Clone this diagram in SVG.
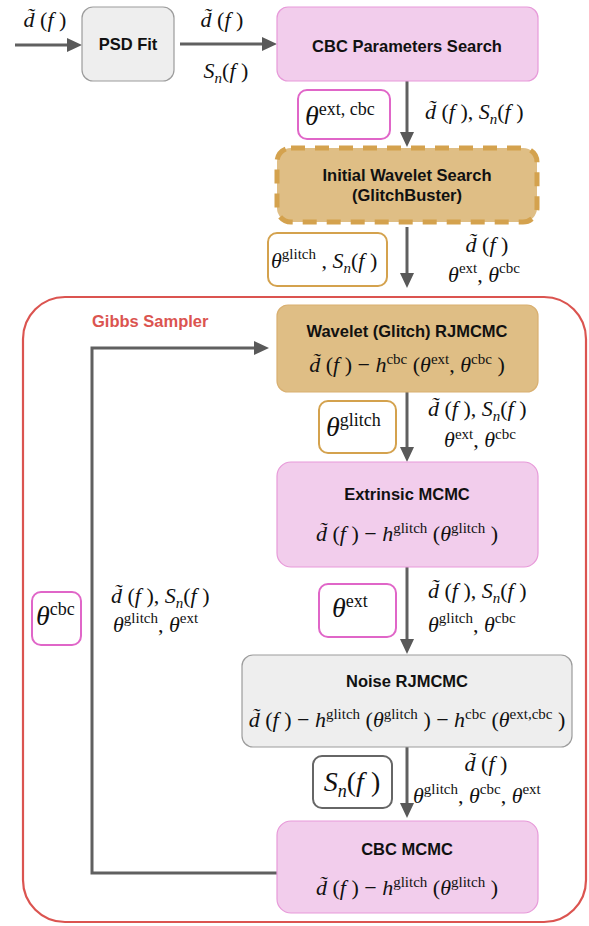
<svg xmlns="http://www.w3.org/2000/svg" width="589" height="926" viewBox="0 0 589 926">
<defs>
<marker id="ah" markerUnits="userSpaceOnUse" markerWidth="15" markerHeight="14" refX="4" refY="7" orient="auto">
<path d="M0,0 L15,7 L0,14 z" fill="#595959"/>
</marker>
<style>
.b{font-family:"Liberation Sans",Arial,sans-serif;font-weight:bold;font-size:16.5px;fill:#111}
.m{font-family:"Liberation Serif","Times New Roman",serif;font-size:22px;fill:#111}
.i{font-style:italic}
.s{font-size:15px}
.L{font-size:28px}
.Ls{font-size:18px}
.pink{fill:#f2cdec;stroke:#e79ad9;stroke-width:1.2}
.tan{fill:#dfbe85;stroke:#d9b071;stroke-width:1.2}
.grey{fill:#eeeeee;stroke:#9c9c9c;stroke-width:1.2}
.lb{fill:#fff;stroke-width:2}
.c{fill:none;stroke:#606060;stroke-width:3}
</style>
</defs>

<g id="gibbs">
<rect x="23" y="297" width="563" height="625" rx="42" fill="none" stroke="#db5450" stroke-width="2.2"/>
<text x="92" y="327" font-family="Liberation Sans,Arial,sans-serif" font-weight="bold" font-size="16.5" fill="#db5450">Gibbs Sampler</text>
</g>

<g id="connectors">
<line class="c" x1="15" y1="45" x2="71" y2="45" marker-end="url(#ah)"/>
<line class="c" x1="180" y1="44" x2="266" y2="44" marker-end="url(#ah)"/>
<line class="c" x1="407" y1="81" x2="407" y2="136" marker-end="url(#ah)"/>
<line class="c" x1="407" y1="227" x2="407" y2="277" marker-end="url(#ah)"/>
<line class="c" x1="407" y1="392" x2="407" y2="451" marker-end="url(#ah)"/>
<line class="c" x1="407" y1="567" x2="407" y2="643" marker-end="url(#ah)"/>
<line class="c" x1="407" y1="747" x2="407" y2="807" marker-end="url(#ah)"/>
<path class="c" d="M277,873 H92 V348 H258" marker-end="url(#ah)"/>
</g>

<g id="psd">
<rect class="grey" x="82" y="7" width="92" height="74" rx="11"/>
<text class="b" x="128" y="50" text-anchor="middle">PSD Fit</text>
</g>

<g id="cbc-search">
<rect class="pink" x="277" y="7" width="261" height="74" rx="11"/>
<text class="b" x="407" y="52" text-anchor="middle">CBC Parameters Search</text>
</g>

<g id="initial-wavelet">
<rect x="277" y="148" width="260" height="74" rx="14" fill="#dfbe85" stroke="#d4a24e" stroke-width="5" stroke-dasharray="14,10"/>
<text class="b" x="407" y="181" text-anchor="middle">Initial Wavelet Search</text>
<text class="b" x="407" y="201" text-anchor="middle">(GlitchBuster)</text>
</g>

<g id="wavelet-rjmcmc">
<rect class="tan" x="277" y="305" width="261" height="87" rx="11"/>
<text class="b" x="407" y="337" text-anchor="middle">Wavelet (Glitch) RJMCMC</text>
<text class="m" x="407" y="372" text-anchor="middle"><tspan class="i">d&#x303;</tspan> (<tspan class="i">f</tspan> ) − <tspan class="i">h</tspan><tspan class="s" dy="-8">cbc</tspan><tspan dy="8"> (</tspan><tspan class="i">θ</tspan><tspan class="s" dy="-8">ext</tspan><tspan dy="8">, </tspan><tspan class="i">θ</tspan><tspan class="s" dy="-8">cbc</tspan><tspan dy="8"> )</tspan></text>
</g>

<g id="extrinsic">
<rect class="pink" x="277" y="462" width="261" height="105" rx="14"/>
<text class="b" x="407" y="500" text-anchor="middle">Extrinsic MCMC</text>
<text class="m" x="407" y="541" text-anchor="middle"><tspan class="i">d&#x303;</tspan> (<tspan class="i">f</tspan> ) − <tspan class="i">h</tspan><tspan class="s" dy="-8">glitch</tspan><tspan dy="8"> (</tspan><tspan class="i">θ</tspan><tspan class="s" dy="-8">glitch</tspan><tspan dy="8"> )</tspan></text>
</g>

<g id="noise">
<rect class="grey" x="242" y="655" width="330" height="92" rx="11"/>
<text class="b" x="407" y="687" text-anchor="middle">Noise RJMCMC</text>
<text class="m" x="407" y="727" text-anchor="middle"><tspan class="i">d&#x303;</tspan> (<tspan class="i">f</tspan> ) − <tspan class="i">h</tspan><tspan class="s" dy="-8">glitch</tspan><tspan dy="8"> (</tspan><tspan class="i">θ</tspan><tspan class="s" dy="-8">glitch</tspan><tspan dy="8"> ) − </tspan><tspan class="i">h</tspan><tspan class="s" dy="-8">cbc</tspan><tspan dy="8"> (</tspan><tspan class="i">θ</tspan><tspan class="s" dy="-8">ext,cbc</tspan><tspan dy="8"> )</tspan></text>
</g>

<g id="cbc-mcmc">
<rect class="pink" x="277" y="821" width="261" height="92" rx="14"/>
<text class="b" x="407" y="855" text-anchor="middle">CBC MCMC</text>
<text class="m" x="407" y="895" text-anchor="middle"><tspan class="i">d&#x303;</tspan> (<tspan class="i">f</tspan> ) − <tspan class="i">h</tspan><tspan class="s" dy="-8">glitch</tspan><tspan dy="8"> (</tspan><tspan class="i">θ</tspan><tspan class="s" dy="-8">glitch</tspan><tspan dy="8"> )</tspan></text>
</g>

<g id="labels">
<text class="m" x="45" y="27" text-anchor="middle"><tspan class="i">d&#x303;</tspan> (<tspan class="i">f</tspan> )</text>
<text class="m" x="222" y="27" text-anchor="middle"><tspan class="i">d&#x303;</tspan> (<tspan class="i">f</tspan> )</text>
<text class="m" x="226" y="78" text-anchor="middle"><tspan class="i">S</tspan><tspan class="s i" dy="5">n</tspan><tspan dy="-5">(</tspan><tspan class="i">f</tspan> )</text>

<rect class="lb" x="298" y="90" width="92" height="49" rx="9" stroke="#e066c8"/>
<text class="m" x="305" y="125"><tspan class="i L">θ</tspan><tspan class="Ls" dy="-10">ext, cbc</tspan></text>
<text class="m" x="425" y="119"><tspan class="i">d&#x303;</tspan> (<tspan class="i">f</tspan> ), <tspan class="i">S</tspan><tspan class="s i" dy="5">n</tspan><tspan dy="-5">(</tspan><tspan class="i">f</tspan> )</text>

<rect class="lb" x="268" y="233" width="119" height="53" rx="9" stroke="#d4a24e"/>
<text class="m" x="271" y="268"><tspan class="i">θ</tspan><tspan class="s" dy="-9">glitch</tspan><tspan dy="9"> , </tspan><tspan class="i">S</tspan><tspan class="s i" dy="5">n</tspan><tspan dy="-5">(</tspan><tspan class="i">f</tspan> )</text>
<text class="m" x="487" y="252" text-anchor="middle"><tspan class="i">d&#x303;</tspan> (<tspan class="i">f</tspan> )</text>
<text class="m" x="484" y="282" text-anchor="middle"><tspan class="i">θ</tspan><tspan class="s" dy="-9">ext</tspan><tspan dy="9">, </tspan><tspan class="i">θ</tspan><tspan class="s" dy="-9">cbc</tspan></text>

<rect class="lb" x="319" y="401" width="77" height="52" rx="9" stroke="#d4a24e"/>
<text class="m" x="326" y="436"><tspan class="i L">θ</tspan><tspan class="Ls" dy="-10">glitch</tspan></text>
<text class="m" x="428" y="416"><tspan class="i">d&#x303;</tspan> (<tspan class="i">f</tspan> ), <tspan class="i">S</tspan><tspan class="s i" dy="5">n</tspan><tspan dy="-5">(</tspan><tspan class="i">f</tspan> )</text>
<text class="m" x="480" y="447" text-anchor="middle"><tspan class="i">θ</tspan><tspan class="s" dy="-8">ext</tspan><tspan dy="8">, </tspan><tspan class="i">θ</tspan><tspan class="s" dy="-8">cbc</tspan></text>

<rect class="lb" x="319" y="584" width="77" height="53" rx="9" stroke="#e066c8"/>
<text class="m" x="332" y="617"><tspan class="i L">θ</tspan><tspan class="Ls" dy="-10">ext</tspan></text>
<text class="m" x="428" y="598"><tspan class="i">d&#x303;</tspan> (<tspan class="i">f</tspan> ), <tspan class="i">S</tspan><tspan class="s i" dy="5">n</tspan><tspan dy="-5">(</tspan><tspan class="i">f</tspan> )</text>
<text class="m" x="428" y="632"><tspan class="i">θ</tspan><tspan class="s" dy="-9">glitch</tspan><tspan dy="9">, </tspan><tspan class="i">θ</tspan><tspan class="s" dy="-9">cbc</tspan></text>

<rect class="lb" x="313" y="756" width="79" height="52" rx="9" stroke="#666666"/>
<text class="m L" x="352" y="791" text-anchor="middle"><tspan class="i">S</tspan><tspan class="Ls i" dy="6">n</tspan><tspan dy="-6">(</tspan><tspan class="i">f</tspan> )</text>
<text class="m" x="486" y="771" text-anchor="middle"><tspan class="i">d&#x303;</tspan> (<tspan class="i">f</tspan> )</text>
<text class="m" x="413" y="803"><tspan class="i">θ</tspan><tspan class="s" dy="-9">glitch</tspan><tspan dy="9">, </tspan><tspan class="i">θ</tspan><tspan class="s" dy="-9">cbc</tspan><tspan dy="9">, </tspan><tspan class="i">θ</tspan><tspan class="s" dy="-9">ext</tspan></text>

<rect class="lb" x="32" y="592" width="49" height="53" rx="9" stroke="#e066c8"/>
<text class="m" x="36" y="625"><tspan class="i L">θ</tspan><tspan class="Ls" dy="-10">cbc</tspan></text>
<text class="m" x="111" y="603"><tspan class="i">d&#x303;</tspan> (<tspan class="i">f</tspan> ), <tspan class="i">S</tspan><tspan class="s i" dy="5">n</tspan><tspan dy="-5">(</tspan><tspan class="i">f</tspan> )</text>
<text class="m" x="113" y="632"><tspan class="i">θ</tspan><tspan class="s" dy="-9">glitch</tspan><tspan dy="9">, </tspan><tspan class="i">θ</tspan><tspan class="s" dy="-9">ext</tspan></text>
</g>
</svg>
